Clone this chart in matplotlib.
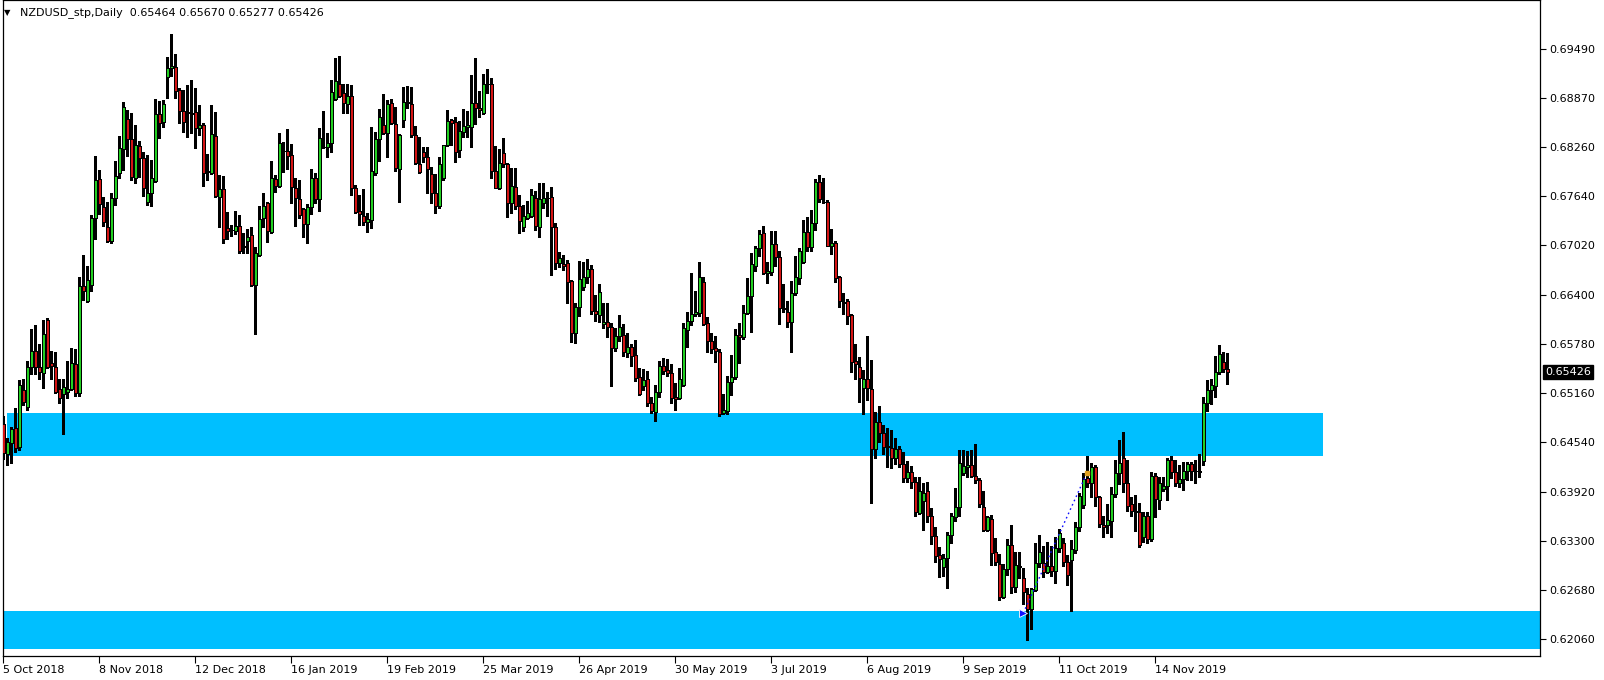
import numpy as np
import matplotlib
matplotlib.use("Agg")
import matplotlib.pyplot as plt
from matplotlib.transforms import blended_transform_factory

# NZDUSD daily candles (one value per bar)
opens = [
    .6477, .6439, .6453, .6472, .6448, .6520, .6498, .6549, .6569, .6549,
    .6541, .6608, .6554, .6549, .6521, .6515, .6517, .6521, .6553, .6516,
    .6651, .6632, .6652, .6736, .6785, .6750, .6725, .6707, .6762, .6793,
    .6823, .6861, .6836, .6787, .6827, .6812, .6756, .6768, .6783, .6867,
    .6857, .6914, .6925, .6926, .6898, .6871, .6870, .6869, .6870, .6850,
    .6853, .6794, .6793, .6840, .6763, .6773, .6724, .6721, .6720, .6726,
    .6700, .6707, .6715, .6652, .6690, .6736, .6755, .6719, .6785, .6777,
    .6821, .6821, .6816, .6774, .6760, .6748, .6729, .6750, .6787, .6760,
    .6826, .6826, .6831, .6886, .6905, .6894, .6880, .6890, .6774, .6745,
    .6739, .6731, .6734, .6793, .6836, .6853, .6843, .6881, .6855, .6798,
    .6860, .6882, .6880, .6841, .6805, .6819, .6813, .6792, .6768, .6752,
    .6787, .6828, .6860, .6857, .6822, .6845, .6851, .6851, .6881, .6875,
    .6869, .6905, .6905, .6796, .6774, .6818, .6805, .6755, .6775, .6752,
    .6725, .6736, .6739, .6762, .6725, .6755, .6762, .6763, .6725, .6680,
    .6678, .6680, .6657, .6592, .6624, .6650, .6662, .6672, .6619, .6614,
    .6603, .6605, .6599, .6573, .6588, .6589, .6566, .6574, .6564, .6536,
    .6525, .6534, .6503, .6492, .6517, .6550, .6545, .6541, .6511, .6510,
    .6526, .6595, .6607, .6616, .6617, .6656, .6604, .6582, .6573, .6568,
    .6491, .6493, .6530, .6536, .6589, .6586, .6617, .6638, .6676, .6699,
    .6717, .6667, .6668, .6704, .6687, .6623, .6618, .6605, .6642, .6661,
    .6681, .6719, .6700, .6730, .6782, .6756, .6756, .6701, .6705, .6662,
    .6631, .6632, .6614, .6556, .6549, .6522, .6534, .6521, .6446, .6480,
    .6466, .6449, .6447, .6434, .6446, .6427, .6409, .6417, .6404, .6365,
    .6380, .6393, .6361, .6336, .6312, .6297, .6309, .6337, .6360, .6373,
    .6415, .6423, .6425, .6412, .6407, .6373, .6344, .6357, .6316, .6301,
    .6259, .6294, .6325, .6272, .6298, .6283, .6263, .6244, .6268, .6302,
    .6302, .6291, .6298, .6292, .6321, .6327, .6303, .6306, .6318, .6347,
    .6375, .6409, .6403, .6423, .6385, .6350, .6350, .6355, .6389, .6416,
    .6434, .6403, .6376, .6367, .6366, .6335, .6361, .6332, .6412, .6381,
    .6395, .6399, .6432, .6417, .6403, .6408, .6418, .6427, .6418, .6418,
    .6431, .6504, .6520, .6525, .6542, .6555, .65464,
]
highs = [
    .6487, .6459, .6473, .6497, .6532, .6534, .6556, .6597, .6602, .6578,
    .6608, .6611, .6569, .6568, .6534, .6534, .6556, .6573, .6572, .6662,
    .6690, .6676, .6740, .6814, .6797, .6763, .6756, .6768, .6808, .6840,
    .6882, .6872, .6869, .6853, .6833, .6819, .6816, .6809, .6886, .6884,
    .6885, .6939, .6968, .6943, .6900, .6898, .6904, .6910, .6900, .6879,
    .6856, .6817, .6879, .6870, .6791, .6789, .6744, .6728, .6745, .6740,
    .6717, .6722, .6725, .6700, .6752, .6768, .6756, .6808, .6791, .6843,
    .6832, .6848, .6830, .6787, .6784, .6749, .6754, .6798, .6793, .6850,
    .6871, .6843, .6910, .6938, .6940, .6905, .6905, .6904, .6778, .6765,
    .6773, .6743, .6851, .6845, .6874, .6892, .6885, .6886, .6876, .6842,
    .6901, .6903, .6901, .6852, .6838, .6826, .6826, .6801, .6792, .6813,
    .6828, .6872, .6861, .6863, .6858, .6874, .6871, .6916, .6938, .6896,
    .6918, .6924, .6913, .6827, .6823, .6837, .6806, .6799, .6799, .6765,
    .6753, .6758, .6773, .6770, .6780, .6780, .6769, .6775, .6730, .6694,
    .6690, .6684, .6658, .6629, .6682, .6681, .6685, .6677, .6639, .6653,
    .6629, .6629, .6604, .6598, .6614, .6603, .6592, .6578, .6583, .6548,
    .6546, .6544, .6511, .6526, .6556, .6560, .6559, .6553, .6529, .6548,
    .6604, .6618, .6667, .6644, .6681, .6662, .6612, .6592, .6588, .6572,
    .6515, .6537, .6564, .6597, .6604, .6627, .6661, .6692, .6701, .6721,
    .6726, .6681, .6720, .6720, .6695, .6653, .6632, .6657, .6689, .6699,
    .6734, .6738, .6746, .6785, .6791, .6787, .6759, .6722, .6707, .6663,
    .6642, .6634, .6616, .6578, .6562, .6545, .6588, .6558, .6492, .6500,
    .6476, .6472, .6469, .6459, .6449, .6442, .6431, .6424, .6410, .6410,
    .6403, .6404, .6371, .6347, .6322, .6313, .6341, .6365, .6396, .6444,
    .6444, .6443, .6444, .6452, .6409, .6393, .6361, .6362, .6333, .6313,
    .6301, .6332, .6350, .6316, .6316, .6296, .6271, .6271, .6327, .6338,
    .6323, .6328, .6323, .6335, .6345, .6333, .6312, .6331, .6354, .6390,
    .6415, .6437, .6428, .6425, .6386, .6361, .6376, .6398, .6432, .6457,
    .6467, .6432, .6385, .6388, .6378, .6366, .6366, .6417, .6415, .6410,
    .6410, .6434, .6437, .6432, .6425, .6429, .6429, .6429, .6432, .6439,
    .6511, .6532, .6534, .6563, .6576, .6568, .65670,
]
lows = [
    .6433, .6425, .6428, .6442, .6444, .6501, .6495, .6540, .6540, .6534,
    .6522, .6548, .6534, .6516, .6503, .6464, .6510, .6520, .6512, .6512,
    .6633, .6631, .6644, .6710, .6741, .6726, .6706, .6705, .6753, .6787,
    .6797, .6814, .6784, .6780, .6788, .6764, .6753, .6752, .6782, .6837,
    .6851, .6887, .6915, .6887, .6856, .6845, .6838, .6843, .6824, .6841,
    .6777, .6784, .6792, .6763, .6725, .6705, .6710, .6714, .6716, .6692,
    .6692, .6692, .6651, .6590, .6689, .6725, .6706, .6718, .6769, .6776,
    .6794, .6798, .6755, .6726, .6736, .6712, .6705, .6741, .6755, .6745,
    .6825, .6813, .6819, .6885, .6889, .6869, .6869, .6765, .6743, .6727,
    .6727, .6719, .6724, .6791, .6808, .6842, .6813, .6855, .6796, .6756,
    .6851, .6875, .6838, .6805, .6793, .6807, .6768, .6755, .6743, .6749,
    .6784, .6827, .6828, .6807, .6813, .6838, .6838, .6826, .6855, .6863,
    .6867, .6894, .6787, .6774, .6773, .6801, .6738, .6743, .6748, .6717,
    .6720, .6735, .6738, .6721, .6712, .6749, .6739, .6665, .6672, .6675,
    .6671, .6629, .6580, .6579, .6613, .6646, .6655, .6616, .6607, .6605,
    .6598, .6587, .6525, .6569, .6582, .6563, .6562, .6550, .6531, .6513,
    .6520, .6500, .6491, .6481, .6511, .6540, .6538, .6503, .6495, .6508,
    .6525, .6574, .6602, .6613, .6613, .6602, .6568, .6566, .6555, .6487,
    .6490, .6490, .6513, .6534, .6554, .6584, .6616, .6593, .6670, .6689,
    .6666, .6655, .6665, .6676, .6603, .6618, .6599, .6568, .6639, .6653,
    .6680, .6695, .6695, .6721, .6756, .6755, .6701, .6691, .6656, .6624,
    .6616, .6603, .6542, .6534, .6505, .6490, .6507, .6378, .6434, .6454,
    .6439, .6423, .6422, .6427, .6423, .6404, .6404, .6396, .6361, .6364,
    .6344, .6354, .6326, .6304, .6284, .6286, .6271, .6327, .6355, .6361,
    .6413, .6410, .6410, .6403, .6373, .6343, .6343, .6300, .6300, .6255,
    .6258, .6287, .6265, .6266, .6283, .6250, .6205, .6219, .6267, .6297,
    .6284, .6289, .6286, .6277, .6316, .6298, .6275, .6242, .6315, .6342,
    .6371, .6398, .6385, .6374, .6347, .6335, .6340, .6335, .6385, .6402,
    .6391, .6368, .6361, .6343, .6322, .6328, .6327, .6330, .6360, .6370,
    .6393, .6381, .6409, .6399, .6398, .6394, .6407, .6407, .6403, .6410,
    .6425, .6493, .6502, .6511, .6540, .6542, .65277,
]
closes = [
    .6441, .6454, .6471, .6447, .6526, .6505, .6549, .6569, .6549, .6542,
    .6590, .6549, .6550, .6517, .6510, .6524, .6521, .6554, .6516, .6651,
    .6644, .6658, .6736, .6784, .6754, .6731, .6707, .6762, .6789, .6824,
    .6876, .6836, .6788, .6828, .6812, .6774, .6768, .6787, .6867, .6856,
    .6880, .6925, .6928, .6896, .6871, .6857, .6869, .6867, .6850, .6853,
    .6793, .6795, .6842, .6764, .6773, .6710, .6720, .6721, .6726, .6695,
    .6701, .6712, .6652, .6692, .6735, .6752, .6720, .6787, .6777, .6831,
    .6821, .6814, .6775, .6762, .6740, .6729, .6750, .6787, .6760, .6837,
    .6826, .6831, .6895, .6909, .6890, .6881, .6890, .6774, .6744, .6741,
    .6731, .6735, .6796, .6836, .6863, .6843, .6880, .6856, .6799, .6841,
    .6882, .6881, .6841, .6806, .6794, .6813, .6798, .6768, .6752, .6805,
    .6828, .6858, .6856, .6819, .6846, .6852, .6853, .6881, .6875, .6872,
    .6905, .6905, .6796, .6774, .6806, .6805, .6755, .6777, .6752, .6733,
    .6739, .6743, .6765, .6726, .6760, .6762, .6762, .6725, .6680, .6686,
    .6676, .6656, .6592, .6624, .6660, .6662, .6672, .6619, .6616, .6643,
    .6605, .6599, .6573, .6588, .6599, .6568, .6574, .6563, .6535, .6515,
    .6532, .6503, .6493, .6517, .6550, .6544, .6541, .6510, .6508, .6534,
    .6598, .6607, .6616, .6618, .6662, .6603, .6582, .6572, .6569, .6490,
    .6495, .6530, .6536, .6589, .6587, .6617, .6638, .6678, .6699, .6716,
    .6667, .6670, .6704, .6687, .6623, .6622, .6605, .6642, .6662, .6695,
    .6719, .6700, .6730, .6782, .6760, .6757, .6701, .6705, .6661, .6632,
    .6629, .6613, .6555, .6553, .6535, .6534, .6522, .6446, .6480, .6466,
    .6448, .6448, .6434, .6446, .6427, .6409, .6417, .6404, .6366, .6393,
    .6390, .6361, .6336, .6311, .6307, .6309, .6337, .6361, .6373, .6428,
    .6424, .6425, .6412, .6407, .6376, .6344, .6360, .6315, .6303, .6259,
    .6294, .6325, .6272, .6300, .6297, .6266, .6244, .6269, .6302, .6316,
    .6291, .6298, .6292, .6321, .6340, .6303, .6287, .6320, .6347, .6386,
    .6408, .6403, .6423, .6385, .6351, .6347, .6356, .6389, .6416, .6428,
    .6403, .6374, .6368, .6366, .6325, .6361, .6332, .6412, .6383, .6403,
    .6399, .6432, .6417, .6403, .6408, .6418, .6427, .6418, .6418, .6417,
    .6504, .6520, .6526, .6542, .6565, .6546, .65426,
]

date_labels = ["5 Oct 2018", "8 Nov 2018", "12 Dec 2018", "16 Jan 2019",
               "19 Feb 2019", "25 Mar 2019", "26 Apr 2019", "30 May 2019",
               "3 Jul 2019", "6 Aug 2019", "9 Sep 2019", "11 Oct 2019",
               "14 Nov 2019"]
bars_per_label = 24

price_ticks = [0.69490, 0.68870, 0.68260, 0.67640, 0.67020, 0.66400, 0.65780,
               0.65160, 0.64540, 0.63920, 0.63300, 0.62680, 0.62060]

# support/resistance zones (low, high) and the bar range they cover
upper_zone = (0.64368, 0.64910)
upper_zone_bars = (0.9, 330)
lower_zone = (0.61939, 0.62417)

# dotted trend line drawn on the chart
trend_bars = [255.0, 270.9]
trend_prices = [0.62392, 0.64154]

last_price = 0.65426
header = "NZDUSD_stp,Daily  0.65464 0.65670 0.65277 0.65426"

W, H = 1604, 680
fig = plt.figure(figsize=(W / 100, H / 100), dpi=100)
ax = fig.add_axes([3 / W, 24 / H, 1537 / W, 656 / H])

o = np.array(opens)
h = np.array(highs)
l = np.array(lows)
c = np.array(closes)
x = np.arange(len(o))

ax.set_xlim(-0.075, 384.175)
ax.set_ylim(0.61851, 0.70108)

# zones
zone_blue = "#00BFFF"
ax.fill_between(upper_zone_bars, upper_zone[0], upper_zone[1],
                color=zone_blue, lw=0, zorder=1)
ax.axhspan(lower_zone[0], lower_zone[1], color=zone_blue, lw=0, zorder=1)

# candles: black wicks, green/red bodies with black outline
ax.vlines(x, l, h, color="black", lw=0.8, zorder=2, antialiased=False)
bull = c >= o
body_colors = np.where(bull, "#22d022", "#d41414")
ax.bar(x, np.abs(c - o), bottom=np.minimum(o, c), width=0.82,
       color=body_colors, edgecolor="black", linewidth=0.6, zorder=3,
       antialiased=False)

# trend line with MT4 style markers
ax.plot(trend_bars, trend_prices, color="#1010ff", lw=1,
        linestyle=(0, (1.2, 2.2)), zorder=4)
ax.plot(trend_bars[0], trend_prices[0], marker=">", color="#1010ff",
        ms=6, mec="white", mew=0.6, zorder=5)
ax.plot(trend_bars[1], trend_prices[1], marker="s", color="#e0a020",
        ms=3, zorder=5)

# axes cosmetics
for sp in ax.spines.values():
    sp.set_color("black")
    sp.set_linewidth(0.9)

ax.yaxis.tick_right()
ax.set_yticks(price_ticks)
ax.set_yticklabels([f"{p:.5f}" for p in price_ticks])
ax.tick_params(axis="y", direction="out", length=4, width=0.8,
               labelsize=8, pad=3, colors="black")

tick_pos = [i * bars_per_label for i in range(len(date_labels))]
ax.set_xticks(tick_pos)
ax.set_xticklabels(date_labels, ha="left")
ax.tick_params(axis="x", direction="out", length=5, width=0.8,
               labelsize=8, pad=1.5, colors="black")

# current price box on the price scale
trans = blended_transform_factory(ax.transAxes, ax.transData)
ax.text(1.0 + 5 / 1537, last_price, f"{last_price:.5f}", transform=trans,
        ha="left", va="center", color="white", fontsize=8, zorder=10,
        clip_on=False,
        bbox=dict(boxstyle="square,pad=0.18", fc="black", ec="black"))

# header
fig.text(4 / W, 1 - 13 / H, "\u25bc", fontsize=6, va="center", ha="left")
fig.text(20 / W, 1 - 13 / H, header, fontsize=8, va="center", ha="left")

fig.savefig("out.png", dpi=100, facecolor="white")
